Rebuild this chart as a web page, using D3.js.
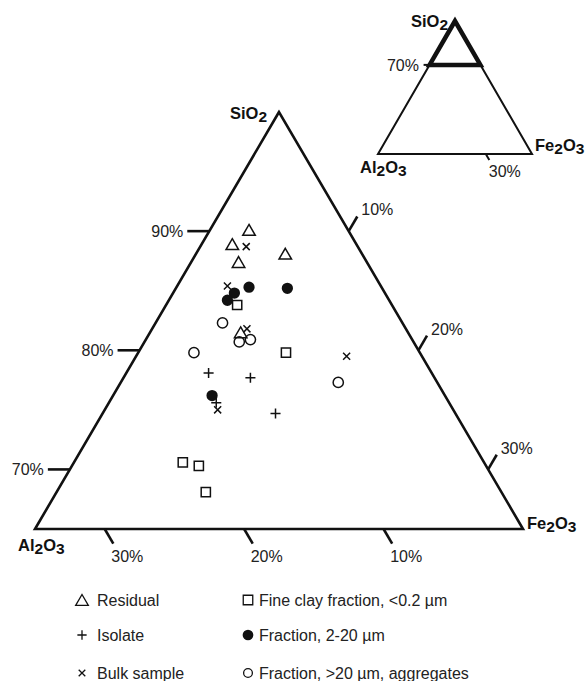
<!DOCTYPE html>
<html>
<head>
<meta charset="utf-8">
<script src="https://cdn.jsdelivr.net/npm/d3@7"></script>
<style>
  body { margin: 0; background: #fff; }
  text { font-family: "Liberation Sans", Arial, Helvetica, sans-serif; }
</style>
</head>
<body>
<svg id="chart" width="587" height="681"></svg>
<script>
// values, each point is [SiO2 %, Fe2O3 %]
var residual  = [[90.1, 2.8], [88.9, 2.2], [88.1, 6.4], [87.4, 3.4], [81.5, 6.5]];
var isolate   = [[78.1, 5.9], [77.7, 9.1], [75.6, 7.7], [74.7, 12.4]];
var bulk      = [[88.7, 3.3], [85.4, 3.6], [81.8, 6.8], [79.5, 15.1], [75.0, 8.1]];
var fineClay  = [[83.8, 5.1], [79.8, 10.6], [70.6, 7.8], [70.3, 9.1], [68.1, 10.7]];
var frac2_20  = [[85.3, 5.2], [85.2, 8.0], [84.8, 4.4], [84.2, 4.2], [76.2, 7.1]];
var frac20    = [[82.3, 4.8], [80.7, 6.8], [80.9, 7.5], [79.8, 4.0], [77.3, 15.6]];

var seriesNames = ["Residual", "Isolate", "Bulk sample",
                   "Fine clay fraction, <0.2 µm", "Fraction, 2-20 µm", "Fraction, >20 µm, aggregates"];

var sio2Ticks  = [70, 80, 90];
var fe2o3Ticks = [10, 20, 30];
var al2o3Ticks = [30, 20, 10];

var SI_MIN = 65; // the main triangle shows SiO2 from 65 to 100 %

var svg = d3.select("#chart");

// main triangle corners (pixels)
var apex = [279, 112], left = [35, 529], right = [523, 529];

var yScale  = d3.scaleLinear().domain([SI_MIN, 100]).range([left[1], apex[1]]);
var xShift  = d3.scaleLinear().domain([SI_MIN, 100]).range([left[0], apex[0]]);
var feScale = d3.scaleLinear().domain([0, 100 - SI_MIN]).range([0, right[0] - left[0]]);

function project(si, fe)
{
	return [xShift(si) + feScale(fe), yScale(si)];
}

// chemical formula, the digits are dropped a little
function formula(x, y, parts, anchor)
{
	var t = svg.append("text")
		.attr("x", x).attr("y", y)
		.attr("text-anchor", anchor || "start")
		.attr("font-size", 16.5)
		.attr("font-weight", "bold")
		.attr("fill", "#111");
	var prevSub = false;
	parts.forEach(function (p)
	{
		var isSub = /^[0-9]$/.test(p);
		var dy = 0;
		if (isSub && !prevSub) dy = 3;
		if (!isSub && prevSub) dy = -3;
		t.append("tspan")
			.attr("dy", dy)
			.attr("font-size", isSub ? 15.5 : 16.5)
			.text(p);
		prevSub = isSub;
	});
	return t;
}

var lineColor = "#111";
var tickColor = "#222";
var FONT = 16;

// ---- main triangle ----
var outline = [project(100, 0), project(SI_MIN, 0), project(SI_MIN, 100 - SI_MIN)];
svg.append("path")
	.attr("d", "M" + outline.join("L") + "Z")
	.attr("fill", "none")
	.attr("stroke", lineColor)
	.attr("stroke-width", 2.6)
	.attr("stroke-linejoin", "miter");

var TICK = 17;
var edgeLen = Math.hypot(apex[0] - left[0], apex[1] - left[1]);
var ux = (apex[0] - left[0]) / edgeLen, uy = (apex[1] - left[1]) / edgeLen;

// SiO2 ticks on the left edge, horizontal
sio2Ticks.forEach(function (t)
{
	var p = project(t, 0);
	svg.append("line")
		.attr("x1", p[0]).attr("y1", p[1])
		.attr("x2", p[0] - 22).attr("y2", p[1])
		.attr("stroke", lineColor).attr("stroke-width", 2.6);
	svg.append("text")
		.attr("x", p[0] - 26).attr("y", p[1] + 6)
		.attr("text-anchor", "end")
		.attr("font-size", FONT)
		.attr("fill", tickColor)
		.text(t + "%");
});

// Fe2O3 ticks on the right edge, going up-right
fe2o3Ticks.forEach(function (t)
{
	var p = project(100 - t, t);
	var e = [p[0] + ux * TICK, p[1] + uy * TICK];
	svg.append("line")
		.attr("x1", p[0]).attr("y1", p[1])
		.attr("x2", e[0]).attr("y2", e[1])
		.attr("stroke", lineColor).attr("stroke-width", 2.6);
	svg.append("text")
		.attr("x", e[0] + 4).attr("y", e[1] - 1)
		.attr("font-size", FONT)
		.attr("fill", tickColor)
		.text(t + "%");
});

// Al2O3 ticks on the base, going down-right
al2o3Ticks.forEach(function (t)
{
	var p = project(SI_MIN, (100 - SI_MIN) - t);
	var e = [p[0] + ux * TICK, p[1] - uy * TICK];
	svg.append("line")
		.attr("x1", p[0]).attr("y1", p[1])
		.attr("x2", e[0]).attr("y2", e[1])
		.attr("stroke", lineColor).attr("stroke-width", 2.6);
	svg.append("text")
		.attr("x", e[0] - 2).attr("y", e[1] + 18)
		.attr("font-size", FONT)
		.attr("fill", tickColor)
		.text(t + "%");
});

formula(267, 119, ["SiO", "2"], "end");
formula(18, 551, ["Al", "2", "O", "3"]);
formula(527, 529, ["Fe", "2", "O", "3"]);

// ---- inset ----
var inApex = [455, 21], inLeft = [378, 154], inRight = [532, 154];
var inY = d3.scaleLinear().domain([0, 1]).range([inApex[1], inLeft[1]]);
var inHalf = d3.scaleLinear().domain([0, 1]).range([0, (inRight[0] - inLeft[0]) / 2]);
var cut = 0.33;

svg.append("path")
	.attr("d", "M" + [inApex, inLeft, inRight].join("L") + "Z")
	.attr("fill", "none").attr("stroke", lineColor).attr("stroke-width", 2);
svg.append("path")
	.attr("d", "M" + [inApex,
		[inApex[0] - inHalf(cut), inY(cut)],
		[inApex[0] + inHalf(cut), inY(cut)]].join("L") + "Z")
	.attr("fill", "none").attr("stroke", lineColor).attr("stroke-width", 4.5)
	.attr("stroke-linejoin", "miter");
svg.append("line")
	.attr("x1", inApex[0] - inHalf(cut) - 6).attr("y1", inY(cut))
	.attr("x2", inApex[0] - inHalf(cut)).attr("y2", inY(cut))
	.attr("stroke", lineColor).attr("stroke-width", 2);
svg.append("text")
	.attr("x", 419).attr("y", inY(cut) + 6)
	.attr("text-anchor", "end").attr("font-size", FONT).attr("fill", tickColor)
	.text("70%");
var bx = inLeft[0] + 0.7 * (inRight[0] - inLeft[0]);
svg.append("line")
	.attr("x1", bx).attr("y1", inLeft[1])
	.attr("x2", bx + 3.5).attr("y2", inLeft[1] + 6)
	.attr("stroke", lineColor).attr("stroke-width", 2);
svg.append("text")
	.attr("x", bx + 3).attr("y", 177)
	.attr("font-size", FONT).attr("fill", tickColor)
	.text("30%");
formula(448, 27, ["SiO", "2"], "end");
formula(360, 173, ["Al", "2", "O", "3"]);
formula(535, 151, ["Fe", "2", "O", "3"]);

// ---- points ----
var seriesData = [residual, isolate, bulk, fineClay, frac2_20, frac20];
var shapes = [
	{ type: d3.symbolTriangle2, size: 112, fill: "none", dy: 1.7 },
	{ type: d3.symbolPlus,      size: 35,  fill: "none", dy: 0 },
	{ type: d3.symbolTimes,     size: 34,  fill: "none", dy: 0 },
	{ type: d3.symbolSquare2,   size: 108, fill: "#fff", dy: 0 },
	{ type: d3.symbolCircle,    size: 100, fill: "#111", dy: 0 },
	{ type: d3.symbolCircle,    size: 82,  fill: "#fff", dy: 0 }
];

// draw order: open circles and squares first, the rest on top
[5, 3, 4, 0, 1, 2].forEach(function (i)
{
	var s = shapes[i];
	svg.append("g").selectAll("path")
		.data(seriesData[i])
		.join("path")
		.attr("transform", function (d)
		{
			var p = project(d[0], d[1]);
			return "translate(" + p[0] + "," + (p[1] + s.dy) + ")";
		})
		.attr("d", d3.symbol().type(s.type).size(s.size))
		.attr("fill", s.fill)
		.attr("stroke", i === 4 ? "none" : "#111")
		.attr("stroke-width", 1.5);
});

// ---- legend ----
var legendShapes = [
	{ type: d3.symbolTriangle2, size: 115, fill: "none", dy: 1.8 },
	{ type: d3.symbolPlus,      size: 30,  fill: "none", dy: 0 },
	{ type: d3.symbolTimes,     size: 30,  fill: "none", dy: 0 },
	{ type: d3.symbolSquare2,   size: 115, fill: "none", dy: 0 },
	{ type: d3.symbolCircle,    size: 90,  fill: "#111", dy: 0 },
	{ type: d3.symbolCircle,    size: 60,  fill: "none", dy: 0 }
];
var legendX = d3.scaleOrdinal().domain([0, 1]).range([82, 248]);
var legendTextX = d3.scaleOrdinal().domain([0, 1]).range([97, 259]);
var legendBase = d3.scaleOrdinal().domain([0, 1, 2]).range([606, 641, 679]);

seriesNames.forEach(function (name, i)
{
	var col = Math.floor(i / 3), row = i % 3;
	var x = legendX(col), y = legendBase(row) - 6;
	var s = legendShapes[i];
	svg.append("path")
		.attr("transform", "translate(" + x + "," + (y + s.dy) + ")")
		.attr("d", d3.symbol().type(s.type).size(s.size))
		.attr("fill", s.fill)
		.attr("stroke", i === 4 ? "none" : "#111")
		.attr("stroke-width", 1.3);
	svg.append("text")
		.attr("x", legendTextX(col)).attr("y", legendBase(row))
		.attr("font-size", 16)
		.attr("fill", "#222")
		.text(name);
});
</script>
</body>
</html>
